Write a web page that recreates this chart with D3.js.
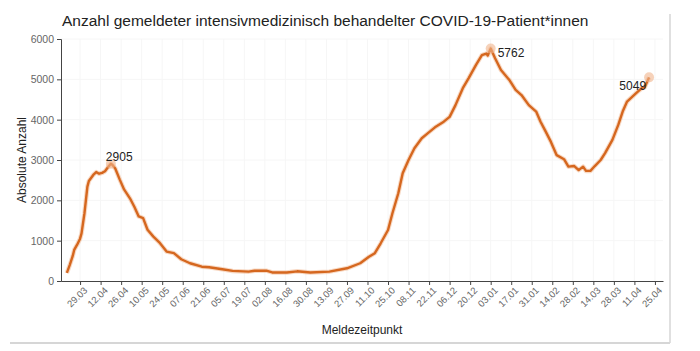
<!DOCTYPE html>
<html>
<head>
<meta charset="utf-8">
<script src="https://cdn.jsdelivr.net/npm/d3@7"></script>
<style>
  body { margin: 0; background: #fff; }
  svg { display: block; font-family: "Liberation Sans", Arial, sans-serif; }
</style>
</head>
<body>
<svg></svg>
<script>
// ---------------- data ----------------
var dates = [
  "2020-03-20","2020-03-22","2020-03-24","2020-03-25","2020-03-27","2020-03-29","2020-03-30",
  "2020-04-01","2020-04-03","2020-04-04","2020-04-07","2020-04-09","2020-04-11","2020-04-13",
  "2020-04-15","2020-04-17","2020-04-19","2020-04-20","2020-04-22","2020-04-25","2020-04-28",
  "2020-05-02","2020-05-05","2020-05-08","2020-05-11","2020-05-14","2020-05-18","2020-05-22",
  "2020-05-27","2020-06-01","2020-06-06","2020-06-12","2020-06-20","2020-06-25","2020-07-04",
  "2020-07-11","2020-07-22","2020-07-26","2020-08-03","2020-08-07","2020-08-17","2020-08-24",
  "2020-09-02","2020-09-15","2020-09-27","2020-10-06","2020-10-12","2020-10-16","2020-10-20",
  "2020-10-25","2020-10-28","2020-11-01","2020-11-04","2020-11-08","2020-11-12","2020-11-17",
  "2020-11-21","2020-11-26","2020-12-02","2020-12-06","2020-12-10","2020-12-15","2020-12-19",
  "2020-12-24","2020-12-28","2020-12-31","2021-01-01","2021-01-03","2021-01-06","2021-01-10",
  "2021-01-16","2021-01-20","2021-01-24","2021-01-29","2021-02-03","2021-02-06","2021-02-09",
  "2021-02-13","2021-02-17","2021-02-22","2021-02-25","2021-03-01","2021-03-04","2021-03-07",
  "2021-03-09","2021-03-12","2021-03-15","2021-03-19","2021-03-22","2021-03-27","2021-03-31",
  "2021-04-03","2021-04-06","2021-04-12","2021-04-16","2021-04-18","2021-04-21"
];
var patients = [
  200, 400, 620, 770, 900, 1050, 1180,
  1680, 2340, 2480, 2630, 2700, 2660, 2680,
  2720, 2820, 2905, 2880, 2790, 2520, 2270,
  2050, 1840, 1600, 1560, 1270, 1100, 960,
  730, 690, 540, 440, 355, 340, 290,
  250, 232, 255, 255, 212, 210, 240,
  212, 232, 315, 440, 600, 690, 935,
  1265, 1680, 2175, 2670, 3000, 3290, 3540,
  3660, 3810, 3950, 4070, 4360, 4780, 5030,
  5360, 5600, 5640, 5590, 5762, 5525, 5230,
  4970, 4740, 4610, 4360, 4200, 3950, 3740,
  3455, 3120, 3020, 2835, 2850, 2750, 2835,
  2730, 2730, 2850, 3000, 3170, 3500, 3870,
  4200, 4450, 4650, 4780, 4800, 5049
];
// highlighted points
var highlightDates = ["2020-04-19", "2021-01-03", "2021-04-21"];
var yTicks = [0, 1000, 2000, 3000, 4000, 5000, 6000];

var title = "Anzahl gemeldeter intensivmedizinisch behandelter COVID-19-Patient*innen";

// ---------------- layout ----------------
var width = 700, height = 351;
var mLeft = 61, mRight = 663, mTop = 39, mBottom = 281;
var lineColor = "#d5671f";

var parse = d3.timeParse("%Y-%m-%d");
var data = dates.map(function(d, i) { return { date: parse(d), value: patients[i] }; });

var xs = d3.scaleTime()
  .domain([new Date(2020, 2, 16), new Date(2021, 3, 30, 12)])
  .range([mLeft, mRight]);
var ys = d3.scaleLinear().domain([0, 6000]).range([mBottom, mTop]);

var svg = d3.select("svg").attr("width", width).attr("height", height);

// card edge (right + bottom)
svg.append("line").attr("x1", 670).attr("x2", 670).attr("y1", 14).attr("y2", 343)
  .attr("stroke", "#d6d6d6").attr("stroke-width", 1.5);
svg.append("line").attr("x1", 10).attr("x2", 670).attr("y1", 343).attr("y2", 343)
  .attr("stroke", "#d6d6d6").attr("stroke-width", 2);

var xTicks = d3.timeDay.range(new Date(2020, 2, 29), new Date(2021, 3, 27), 14);

// faint grid
svg.append("g").selectAll("line").data(xTicks).enter().append("line")
  .attr("x1", function(d) { return xs(d); }).attr("x2", function(d) { return xs(d); })
  .attr("y1", mTop).attr("y2", mBottom)
  .attr("stroke", "#f6f6f6");
svg.append("g").selectAll("line").data(yTicks.slice(1)).enter().append("line")
  .attr("x1", mLeft).attr("x2", mRight)
  .attr("y1", function(d) { return ys(d); }).attr("y2", function(d) { return ys(d); })
  .attr("stroke", "#f6f6f6");

// title
svg.append("text").attr("x", 62).attr("y", 26)
  .attr("font-size", 15.5).attr("fill", "#222").text(title);

// ---------------- axes ----------------
var yAxis = svg.append("g")
  .attr("transform", "translate(" + mLeft + ",0)")
  .call(d3.axisLeft(ys).tickValues(yTicks).tickSize(4).tickPadding(3).tickFormat(d3.format("d")));
yAxis.select(".domain").attr("stroke", "#444");
yAxis.selectAll(".tick line").attr("stroke", "#444");
yAxis.selectAll("text").attr("fill", "#666").attr("font-size", 10.5)
  .attr("font-family", "Liberation Sans, Arial, sans-serif");

var xAxis = svg.append("g")
  .attr("transform", "translate(0," + mBottom + ")")
  .call(d3.axisBottom(xs).tickValues(xTicks).tickSize(4).tickSizeOuter(0).tickFormat(d3.timeFormat("%d.%m")));
xAxis.select(".domain").attr("stroke", "#444");
xAxis.selectAll(".tick line").attr("stroke", "#444");
xAxis.selectAll("text")
  .attr("fill", "#666").attr("font-size", 9.5)
  .attr("font-family", "Liberation Sans, Arial, sans-serif")
  .attr("text-anchor", "end")
  .attr("dx", "-0.2em").attr("dy", "0.55em")
  .attr("transform", "rotate(-45)");

svg.append("text")
  .attr("transform", "translate(26," + ((mTop + mBottom) / 2) + ") rotate(-90)")
  .attr("text-anchor", "middle").attr("font-size", 12).attr("fill", "#222")
  .text("Absolute Anzahl");

svg.append("text")
  .attr("x", (mLeft + mRight) / 2).attr("y", 334)
  .attr("text-anchor", "middle").attr("font-size", 12).attr("fill", "#222")
  .text("Meldezeitpunkt");

// ---------------- line ----------------
var line = d3.line()
  .x(function(d) { return xs(d.date); })
  .y(function(d) { return ys(d.value); });

svg.append("path").datum(data)
  .attr("fill", "none").attr("stroke", "#f2b48a").attr("stroke-opacity", 0.5)
  .attr("stroke-width", 4.5).attr("stroke-linejoin", "round")
  .attr("d", line);
svg.append("path").datum(data)
  .attr("fill", "none").attr("stroke", lineColor)
  .attr("stroke-width", 2.4).attr("stroke-linejoin", "round")
  .attr("d", line);

// ---------------- highlighted values ----------------
var fmt = d3.timeFormat("%Y-%m-%d");
var hl = data.filter(function(d) { return highlightDates.indexOf(fmt(d.date)) >= 0; });

svg.append("g").selectAll("circle").data(hl).enter().append("circle")
  .attr("cx", function(d) { return xs(d.date); })
  .attr("cy", function(d) { return ys(d.value); })
  .attr("r", 5)
  .attr("fill", "#f0b48c").attr("fill-opacity", 0.6);

// label offsets: left peak above, middle peak right, last point below-left
var labelPos = [
  { dx: -5, dy: -3, anchor: "start" },
  { dx: 7, dy: 8, anchor: "start" },
  { dx: -3, dy: 13, anchor: "end" }
];
svg.append("g").selectAll("text").data(hl).enter().append("text")
  .attr("x", function(d, i) { return xs(d.date) + labelPos[i].dx; })
  .attr("y", function(d, i) { return ys(d.value) + labelPos[i].dy; })
  .attr("text-anchor", function(d, i) { return labelPos[i].anchor; })
  .attr("font-size", 12).attr("fill", "#222")
  .text(function(d) { return d.value; });
</script>
</body>
</html>
